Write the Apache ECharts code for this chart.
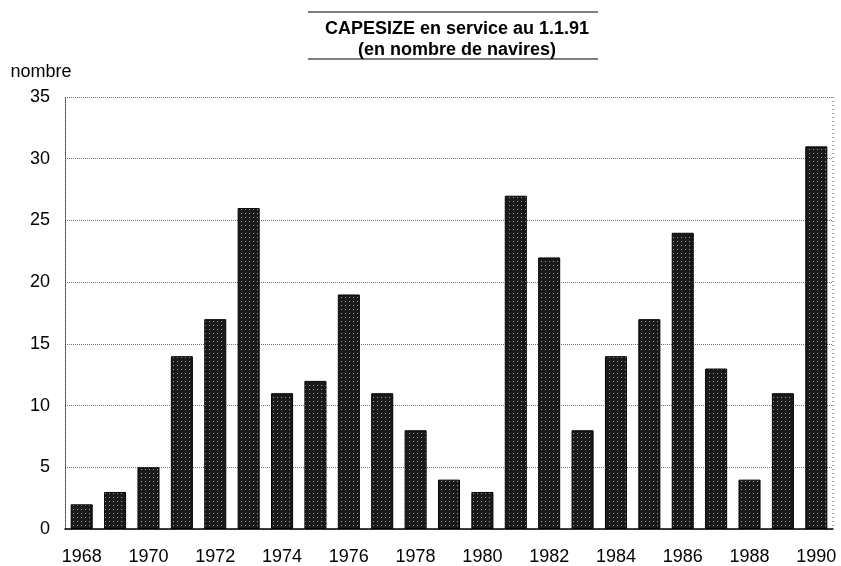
<!DOCTYPE html>
<html>
<head>
<meta charset="utf-8">
<script src="https://cdn.jsdelivr.net/npm/echarts@6/dist/echarts.min.js"></script>
<style>
  html, body { margin: 0; padding: 0; background: #fff; }
  #chart { width: 841px; height: 566px; }
</style>
</head>
<body>
<div id="chart"></div>
<script>
// data
const years = ["1968", "1969", "1970", "1971", "1972", "1973", "1974", "1975", "1976", "1977", "1978", "1979",
  "1980", "1981", "1982", "1983", "1984", "1985", "1986", "1987", "1988", "1989", "1990"];
const ships = [2, 3, 5, 14, 17, 26, 11, 12, 19, 11, 8, 4, 3, 27, 22, 8, 14, 17, 24, 13, 4, 11, 31];

// dotted fill like the printed bars
const pat = document.createElement("canvas");
pat.width = 4;
pat.height = 4;
const pctx = pat.getContext("2d");
pctx.fillStyle = "#1a1a1a";
pctx.fillRect(0, 0, 4, 4);
pctx.fillStyle = "#a0a0a0";
pctx.fillRect(1, 1, 1, 1);

const font = "'Liberation Sans', Arial, sans-serif";

const chart = echarts.init(document.getElementById("chart"));
chart.setOption({
  backgroundColor: "#fff",
  animation: false,
  title: {
    text: "CAPESIZE en service au 1.1.91\n(en nombre de navires)",
    left: 452,
    top: 14,
    textAlign: "center",
    textStyle: {
      fontFamily: font,
      fontSize: 18,
      fontWeight: "bold",
      color: "#000",
      lineHeight: 21,
    },
  },
  graphic: [
    { type: "line", shape: { x1: 308, y1: 12, x2: 598, y2: 12 }, style: { stroke: "#000", lineWidth: 1 } },
    { type: "line", shape: { x1: 308, y1: 59, x2: 598, y2: 59 }, style: { stroke: "#000", lineWidth: 1 } },
    // dotted frame on the right
    { type: "line", shape: { x1: 833, y1: 97, x2: 833, y2: 529 }, style: { stroke: "#444", lineWidth: 1, lineDash: [1, 3] } },
  ],
  grid: { left: 65, right: 8, top: 97, bottom: 37 },
  xAxis: {
    type: "category",
    data: years,
    axisLine: { lineStyle: { color: "#000", width: 1.5 } },
    axisTick: { show: false },
    axisLabel: {
      interval: 1,
      margin: 19,
      fontFamily: font,
      fontSize: 18,
      color: "#000",
    },
  },
  yAxis: {
    type: "value",
    name: "nombre",
    nameLocation: "end",
    nameGap: 16,
    nameTextStyle: { fontFamily: font, fontSize: 18, color: "#000", align: "center", padding: [0, 0, 0, -48] },
    min: 0,
    max: 35,
    interval: 5,
    axisLine: { show: true, lineStyle: { color: "#444", type: "dotted" } },
    axisTick: { show: false },
    axisLabel: { margin: 15, fontFamily: font, fontSize: 18, color: "#000" },
    splitLine: { lineStyle: { color: "#777", type: "dotted", width: 1 } },
  },
  series: [
    {
      type: "bar",
      data: ships,
      barWidth: "66%",
      itemStyle: {
        color: { image: pat, repeat: "repeat" },
        borderColor: "#000",
        borderWidth: 1,
      },
    },
  ],
});
</script>
</body>
</html>
